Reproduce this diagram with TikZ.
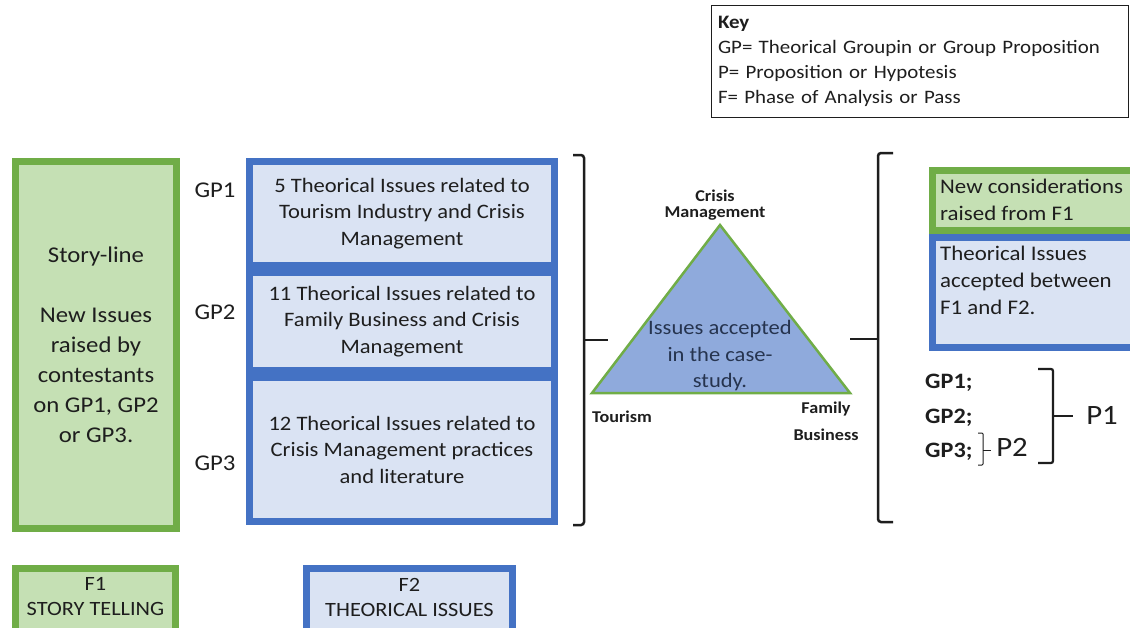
\documentclass[tikz,border=0pt]{standalone}
\usepackage{fontspec}
\setmainfont{Carlito}[FakeStretch=1.1]
\definecolor{gfill}{HTML}{C5E0B4}
\definecolor{gline}{HTML}{70AD47}
\definecolor{bfill}{HTML}{DAE3F3}
\definecolor{bline}{HTML}{4472C4}
\definecolor{tfill}{HTML}{8FAADC}
\definecolor{ink}{HTML}{1E1E1E}
\definecolor{navy}{HTML}{26344F}
\newcommand\fsz[2]{\fontsize{#1}{#2}\selectfont}
\tikzset{
  gbox/.style={draw=gline, fill=gfill, line width=7pt, inner sep=0pt},
  bbox/.style={draw=bline, fill=bfill, line width=7pt, inner sep=0pt},
  boxtxt/.style={text=ink, align=center, font=\fsz{20.5}{26.5}},
  sidetxt/.style={text=ink, align=left, inner sep=0pt, font=\fsz{20.8}{27}},
  gplab/.style={text=ink, inner sep=0pt, font=\fsz{22.5}{25}},
  vlabel/.style={text=ink, inner sep=0pt, align=center, font=\bfseries\fsz{16.5}{15.5}},
  plab/.style={text=ink, inner sep=0pt, font=\bfseries\fsz{22}{24}},
  bigp/.style={text=ink, inner sep=0pt, font=\fsz{28}{30}},
  brace/.style={draw=ink, line width=2.5pt, rounded corners=3pt},
}
\begin{document}
\begin{tikzpicture}[x=1pt,y=-1pt]
\useasboundingbox (0,0) rectangle (1130,627);
\clip (0,0) rectangle (1130,627);
\fill[white] (0,0) rectangle (1130,627);

% key
\node[draw=ink, line width=0.9pt, text width=403pt, inner xsep=7pt, inner ysep=0pt,
      minimum height=112pt, align=left, text=ink, font=\fsz{19}{25}] (key) at (919.5,61)
  {\textbf{Key}\\GP= Theorical Groupin or Group Proposition\\P= Proposition or Hypotesis\\F= Phase of Analysis or Pass};

% phase 1: story line
\node[gbox, boxtxt, font=\fsz{22.5}{30}, minimum width=161pt, minimum height=367pt] (story) at (96,345)
  {Story-line\\[30pt]New Issues\\raised by\\contestants\\on GP1, GP2\\or GP3.};

% phase 2: theoretical groupings
\node[gplab] (gp1) at (215,190) {GP1};
\node[gplab] (gp2) at (215,312) {GP2};
\node[gplab] (gp3) at (215,463) {GP3};
\node[bbox, boxtxt, minimum width=305pt, minimum height=104pt] (t1) at (402,213.5)
  {5 Theorical Issues related to\\Tourism Industry and Crisis\\Management};
\node[bbox, boxtxt, minimum width=305pt, minimum height=98pt] (t2) at (402,321.5)
  {11 Theorical Issues related to\\Family Business and Crisis\\Management};
\node[bbox, boxtxt, minimum width=305pt, minimum height=144pt] (t3) at (402,449.5)
  {12 Theorical Issues related to\\Crisis Management practices\\and literature};

% closing brace
\coordinate (lb1) at (573,155);
\coordinate (lb2) at (573,525);
\coordinate (lbm) at (608,340);
\draw[brace] (lb1) -- (584,155) -- (584,525) -- (lb2);
\draw[brace, rounded corners=0pt] (584,340) -- (lbm);

% triangle of accepted issues
\coordinate (apex) at (720,225);
\coordinate (tl) at (592,393);
\coordinate (tr) at (850,393);
\draw[draw=gline, fill=tfill, line width=2.5pt] (apex) -- (tl) -- (tr) -- cycle;
\node[text=navy, align=center, inner sep=0pt, font=\fsz{20.5}{26.5}] (acc) at (720,356)
  {Issues accepted\\in the case-\\study.};
\node[vlabel] (cm) at (715,205) {Crisis\\Management};
\node[vlabel] (tour) at (622,417) {Tourism};
\node[vlabel, font=\bfseries\fsz{16.5}{27}] (fam) at (826,421) {Family\\Business};

% opening brace
\coordinate (rb1) at (893,153);
\coordinate (rb2) at (893,522);
\coordinate (rbm) at (850,339);
\draw[brace] (rb1) -- (878,153) -- (878,522) -- (rb2);
\draw[brace, rounded corners=0pt] (878,339) -- (rbm);

% results
\node[gbox, minimum width=215pt, minimum height=60pt, anchor=north west] (newc) at (928.5,166.5) {};
\node[bbox, minimum width=215pt, minimum height=110pt, anchor=north west] (acct) at (928.5,233.5) {};
\node[sidetxt, anchor=west] (newct) at (940,199.5) {New considerations\\raised from F1};
\node[sidetxt, anchor=west] (acctt) at (940,280) {Theorical Issues\\accepted between\\F1 and F2.};

\node[plab, anchor=base west] (r1) at (925,388) {GP1;};
\node[plab, anchor=base west] (r2) at (925,423) {GP2;};
\node[plab, anchor=base west] (r3) at (925,457) {GP3;};
\node[bigp] (p1) at (1102,415) {P1};
\node[bigp] (p2) at (1012,447) {P2};
\coordinate (p1tick) at (1073,416);
\coordinate (p2tick) at (991,450);
\draw[draw=ink, line width=2.2pt, rounded corners=2pt] (1038,369) -- (1053,369) -- (1053,463) -- (1038,463);
\draw[draw=ink, line width=2.2pt] (1053,416) -- (p1tick);
\draw[draw=ink, line width=1pt, rounded corners=1pt] (978,433) -- (983,433) -- (983,465) -- (978,465);
\draw[draw=ink, line width=1pt] (983,450) -- (p2tick);

% phase legends
\node[gbox, minimum width=160pt, minimum height=75pt, anchor=north] (f1) at (95.5,564.5) {};
\node[bbox, minimum width=206pt, minimum height=75pt, anchor=north] (f2) at (409.5,564.5) {};
\node[boxtxt, font=\fsz{20.3}{25}, inner sep=0pt] (f1t) at (95.5,597) {F1\\STORY TELLING};
\node[boxtxt, font=\fsz{20.3}{25}, inner sep=0pt] (f2t) at (409.5,597) {F2\\THEORICAL ISSUES};
\end{tikzpicture}
\end{document}
